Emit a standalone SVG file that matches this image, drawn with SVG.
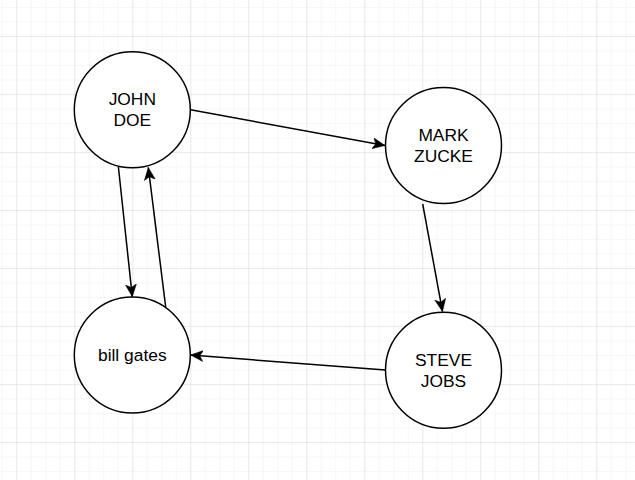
<svg xmlns="http://www.w3.org/2000/svg" width="635" height="480" viewBox="0 0 635 480">
<style>
.node circle{fill:#ffffff;stroke:#000000;stroke-width:1.5}
.node text{font-family:"Liberation Sans",Arial,sans-serif;font-size:17.4px;fill:#000000;text-anchor:middle}
.edge{stroke:#000000;stroke-width:1.5;fill:none;marker-end:url(#arrow)}
</style>
<defs>
<pattern id="minor" patternUnits="userSpaceOnUse" x="1.8" y="7" width="14.5" height="14.5">
<path d="M0,0 H14.5 M0,0 V14.5" stroke="#efefef" stroke-width="1" fill="none"/>
</pattern>
<pattern id="major" patternUnits="userSpaceOnUse" x="16.3" y="36" width="58" height="58">
<path d="M0,0 H58 M0,0 V58" stroke="#dedede" stroke-width="1" fill="none"/>
</pattern>
<marker id="arrow" markerUnits="userSpaceOnUse" markerWidth="14" markerHeight="14" refX="12.5" refY="6" orient="auto">
<path d="M0,0.5 L12.5,6 L0,11.5 L3.2,6 Z" fill="#000000" stroke="#000000" stroke-width="0.5"/>
</marker>
</defs>
<rect width="635" height="480" fill="#ffffff"/>
<rect width="635" height="480" fill="url(#minor)"/>
<rect width="635" height="480" fill="url(#major)"/>
<g id="connectors">
<line class="edge" x1="190.5" y1="109.7" x2="385" y2="145.5"/>
<line class="edge" x1="118.4" y1="167" x2="132.3" y2="296.8"/>
<line class="edge" x1="165.7" y1="307" x2="148.3" y2="167.5"/>
<line class="edge" x1="422.7" y1="204" x2="442.5" y2="311.5"/>
<line class="edge" x1="385.3" y1="370" x2="190.6" y2="355"/>
</g>
<g id="john" class="node">
<circle cx="132.3" cy="109.7" r="58"/>
<text x="132.3" y="105">JOHN</text>
<text x="132.3" y="126">DOE</text>
</g>
<g id="mark" class="node">
<circle cx="443.5" cy="145.5" r="58"/>
<text x="443.5" y="141">MARK</text>
<text x="443.5" y="162.3">ZUCKE</text>
</g>
<g id="steve" class="node">
<circle cx="443.5" cy="370.3" r="58"/>
<text x="443.5" y="366">STEVE</text>
<text x="443.5" y="387">JOBS</text>
</g>
<g id="bill" class="node">
<circle cx="132.3" cy="355" r="58"/>
<text x="132.3" y="360.7">bill gates</text>
</g>
</svg>
